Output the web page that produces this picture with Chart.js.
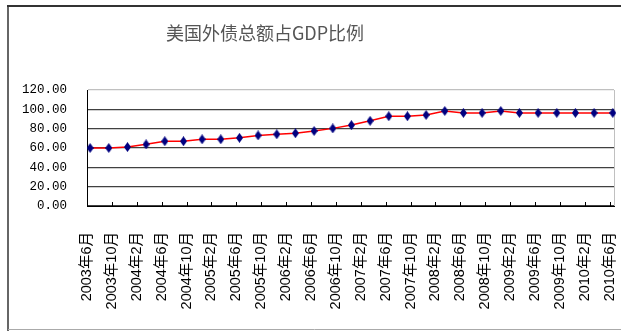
<!DOCTYPE html>
<html lang="zh">
<head>
<meta charset="utf-8">
<title>美国外债总额占GDP比例</title>
<script src="https://cdn.jsdelivr.net/npm/chart.js@4.4.1/dist/chart.umd.min.js"></script>
<style>
  html, body { margin: 0; padding: 0; background: #fff; }
  #debtChart { display: block; }
</style>
</head>
<body>
<canvas id="debtChart" width="621" height="331"></canvas>
<script>
// quarterly observations, year-month
const quarters = [
  '2003-06', '2003-09', '2003-12', '2004-03', '2004-06', '2004-09', '2004-12',
  '2005-03', '2005-06', '2005-09', '2005-12', '2006-03', '2006-06', '2006-09',
  '2006-12', '2007-03', '2007-06', '2007-09', '2007-12', '2008-03', '2008-06',
  '2008-09', '2008-12', '2009-03', '2009-06', '2009-09', '2009-12', '2010-03',
  '2010-06'
];
// US gross external debt as % of GDP
const debtRatio = [
  60.0, 60.0, 61.0, 63.8, 67.0, 67.0, 69.0,
  69.0, 70.5, 73.0, 74.2, 75.3, 77.6, 80.3,
  83.7, 88.1, 92.9, 92.9, 94.2, 98.3, 96.3,
  96.3, 98.3, 96.3, 96.3, 96.3, 96.3, 96.3,
  96.3
];
// x axis labels, one every four months from 2003年6月
const tickLabels = [
  '2003年6月', '2003年10月', '2004年2月', '2004年6月', '2004年10月', '2005年2月',
  '2005年6月', '2005年10月', '2006年2月', '2006年6月', '2006年10月', '2007年2月',
  '2007年6月', '2007年10月', '2008年2月', '2008年6月', '2008年10月', '2009年2月',
  '2009年6月', '2009年10月', '2010年2月', '2010年6月'
];
const yTicks = [0, 20, 40, 60, 80, 100, 120];

const TITLE = '美国外债总额占GDP比例';
const START_YEAR = 2003, START_MONTH = 6;

// months since 2003-06
function monthOffset(ym) {
  const [y, m] = ym.split('-').map(Number);
  return (y - START_YEAR) * 12 + (m - START_MONTH);
}

// observations are mid-month, so they sit half a month right of their tick
const points = quarters.map((q, i) => ({ x: monthOffset(q) + 0.5, y: debtRatio[i] }));

// tall navy diamond marker
function diamond(w, h, color) {
  const c = document.createElement('canvas');
  c.width = w;
  c.height = h;
  const g = c.getContext('2d');
  g.fillStyle = color;
  g.beginPath();
  g.moveTo(w / 2, 0);
  g.lineTo(w, h / 2);
  g.lineTo(w / 2, h);
  g.lineTo(0, h / 2);
  g.closePath();
  g.fill();
  return c;
}

// outer frame, title, plot border and the short inward tick marks
const framePlugin = {
  id: 'frame',
  beforeDraw(chart) {
    const ctx = chart.ctx;
    ctx.save();
    ctx.fillStyle = '#fff';
    ctx.fillRect(0, 0, chart.width, chart.height);

    ctx.lineWidth = 2;
    ctx.strokeStyle = '#666';
    ctx.beginPath();
    ctx.moveTo(8, 6);
    ctx.lineTo(8, chart.height);
    ctx.stroke();

    ctx.strokeStyle = '#333';
    ctx.beginPath();
    ctx.moveTo(7, 6);
    ctx.lineTo(chart.width, 6);
    ctx.stroke();

    ctx.lineWidth = 1;
    ctx.strokeStyle = '#aaa';
    ctx.beginPath();
    ctx.moveTo(8, chart.height - 1.5);
    ctx.lineTo(chart.width, chart.height - 1.5);
    ctx.stroke();

    ctx.fillStyle = '#555';
    ctx.font = '18px "Noto Sans CJK SC", sans-serif';
    ctx.textAlign = 'center';
    ctx.textBaseline = 'middle';
    ctx.fillText(TITLE, 265, 33);
    ctx.restore();
  },
  beforeDatasetsDraw(chart) {
    const { ctx, chartArea: a } = chart;
    ctx.save();
    ctx.strokeStyle = '#c0c0c0';
    ctx.lineWidth = 1;
    ctx.beginPath();
    ctx.moveTo(a.right + 0.5, a.top);
    ctx.lineTo(a.right + 0.5, a.bottom);
    ctx.stroke();

    const xs = chart.scales.x;
    ctx.strokeStyle = '#000';
    ctx.beginPath();
    xs.ticks.forEach(t => {
      const px = Math.round(xs.getPixelForValue(t.value)) + 0.5;
      ctx.moveTo(px, a.bottom);
      ctx.lineTo(px, a.bottom - 4);
    });
    ctx.stroke();
    ctx.restore();
  }
};

new Chart(document.getElementById('debtChart'), {
  type: 'line',
  data: {
    datasets: [{
      data: points,
      borderColor: '#ff0000',
      borderWidth: 1.5,
      pointStyle: diamond(7, 10, '#000080'),
      pointRadius: 5,
      tension: 0,
      clip: false
    }]
  },
  options: {
    responsive: false,
    animation: false,
    layout: { padding: { top: 90, right: 7, left: 0, bottom: 0 } },
    plugins: {
      legend: { display: false },
      tooltip: { enabled: false },
      title: { display: false }
    },
    scales: {
      x: {
        type: 'linear',
        min: 0,
        max: 84.7,
        afterBuildTicks: s => { s.ticks = tickLabels.map((_, i) => ({ value: i * 4 })); },
        afterFit: s => {
          s.height = 125;
          s.paddingLeft = 0;
          s.paddingRight = 0;
        },
        grid: { display: false, drawTicks: false },
        border: { color: '#000', width: 1 },
        ticks: {
          autoSkip: false,
          minRotation: 90,
          maxRotation: 90,
          padding: 26,
          color: '#000',
          font: { family: '"Liberation Sans", "Noto Sans CJK SC", sans-serif', size: 14.5 },
          callback: v => tickLabels[Math.round(v / 4)]
        }
      },
      y: {
        min: 0,
        max: 120,
        afterBuildTicks: s => { s.ticks = yTicks.map(v => ({ value: v })); },
        afterFit: s => { s.width = 87; },
        grid: {
          color: c => (c.tick && c.tick.value === 120 ? '#c0c0c0' : '#404040'),
          lineWidth: 1.3,
          drawTicks: false
        },
        border: { color: '#000', width: 1 },
        ticks: {
          padding: 20,
          color: '#000',
          font: { family: '"Liberation Mono", monospace', size: 12.5 },
          callback: v => v.toFixed(2)
        }
      }
    }
  },
  plugins: [framePlugin]
});
</script>
</body>
</html>
